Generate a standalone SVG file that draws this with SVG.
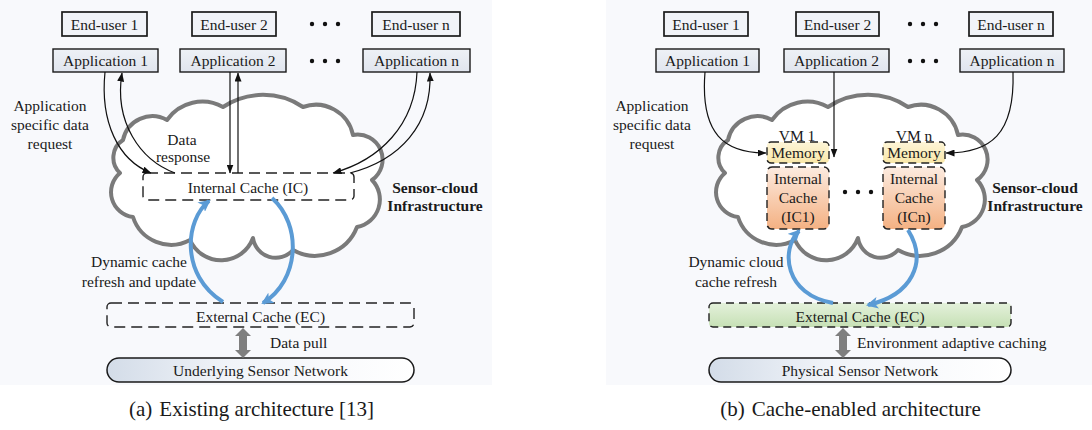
<svg xmlns="http://www.w3.org/2000/svg" xmlns:xlink="http://www.w3.org/1999/xlink" width="1092" height="430" viewBox="0 0 1092 430">
<style>
text{font-family:"Liberation Serif","Times New Roman",serif;fill:#1a1a1a}
.t{font-size:15.5px}
.c{text-anchor:middle}
.b{font-weight:bold}
.cap{font-size:21px;text-anchor:middle}
.eu{fill:#f1f3f8;stroke:#1a1a1a;stroke-width:1.7}
.app{fill:url(#gApp);stroke:#1a1a1a;stroke-width:1.4}
.dash{fill:none;stroke:#222;stroke-width:1.4;stroke-dasharray:11 6}
.dashb{stroke:#222;stroke-width:1.4;stroke-dasharray:8 5}
.cloud{fill:#fff;stroke:#7a7a7a;stroke-width:4;stroke-linejoin:round}
.ln{fill:none;stroke:#111;stroke-width:1.2;marker-end:url(#ah)}
.bl{fill:none;stroke:#5b9bd5;stroke-width:4;marker-end:url(#ahb)}
.gray{fill:#7f7f7f}
.pill{fill:url(#gNet);stroke:#1a1a1a;stroke-width:1.5}
.dot{fill:#111}
</style>
<defs>
<linearGradient id="gApp" x1="0" y1="0" x2="0" y2="1"><stop offset="0" stop-color="#eef1f6"/><stop offset="1" stop-color="#e0e5ee"/></linearGradient>
<linearGradient id="gNet" x1="0" y1="0" x2="1" y2="0"><stop offset="0" stop-color="#d3dce8"/><stop offset="0.4" stop-color="#f1f4f9"/><stop offset="1" stop-color="#ffffff"/></linearGradient>
<linearGradient id="gMem" x1="0" y1="0" x2="0" y2="1"><stop offset="0" stop-color="#fdf5d8"/><stop offset="1" stop-color="#f9e7a8"/></linearGradient>
<linearGradient id="gIC" x1="0" y1="0" x2="0" y2="1"><stop offset="0" stop-color="#fcebe0"/><stop offset="1" stop-color="#f4b183"/></linearGradient>
<linearGradient id="gEC" x1="0" y1="0" x2="0" y2="1"><stop offset="0" stop-color="#e4f1db"/><stop offset="1" stop-color="#c6e0b5"/></linearGradient>
<marker id="ah" markerUnits="userSpaceOnUse" markerWidth="9" markerHeight="7" refX="8.5" refY="3.5" orient="auto"><path d="M0,0 L9,3.5 L0,7 z" fill="#111"/></marker>
<marker id="ahb" markerUnits="userSpaceOnUse" markerWidth="12" markerHeight="12" refX="10" refY="6" orient="auto"><path d="M0,0 L12,6 L0,12 L3,6 z" fill="#5b9bd5"/></marker>
<path id="cloudShape" d="M123,140 A30,30 0 0 1 167,120 A43,43 0 0 1 223,107 A72,72 0 0 1 303,107 A38,38 0 0 1 353,135 A25,25 0 0 1 372,180 A28,28 0 0 1 357,227 A45,45 0 0 1 293,250 A23,23 0 0 1 253,238 A34,34 0 0 1 190,240 A40,40 0 0 1 133,217 A25,25 0 0 1 120,173 A21,21 0 0 1 123,140 Z"/>
</defs>
<rect x="0" y="0" width="1092" height="430" fill="#fff"/>
<rect x="0" y="0" width="492" height="385" fill="#f8f9fc"/>
<rect x="606" y="0" width="486" height="385" fill="#f8f9fc"/>

<!-- ===== Panel (a) ===== -->
<g id="cloud-a"><use xlink:href="#cloudShape" class="cloud"/></g>
<g id="a-enduser1"><rect class="eu" x="62" y="12" width="85" height="24"/><text class="t c" x="104.5" y="29.5">End-user 1</text></g>
<g id="a-enduser2"><rect class="eu" x="192" y="12" width="84" height="24"/><text class="t c" x="234" y="29.5">End-user 2</text></g>
<g id="a-endusern"><rect class="eu" x="372" y="12" width="88" height="24"/><text class="t c" x="416" y="29.5">End-user n</text></g>
<g id="a-dots1"><circle class="dot" cx="312" cy="24" r="2.2"/><circle class="dot" cx="325" cy="24" r="2.2"/><circle class="dot" cx="338" cy="24" r="2.2"/></g>
<g id="a-app1"><rect class="app" x="53" y="49" width="105" height="23"/><text class="t c" x="105.5" y="66">Application 1</text></g>
<g id="a-app2"><rect class="app" x="180" y="49" width="106" height="23"/><text class="t c" x="233" y="66">Application 2</text></g>
<g id="a-appn"><rect class="app" x="363" y="49" width="107" height="23"/><text class="t c" x="416.5" y="66">Application n</text></g>
<g id="a-dots2"><circle class="dot" cx="312" cy="61" r="2.2"/><circle class="dot" cx="325" cy="61" r="2.2"/><circle class="dot" cx="338" cy="61" r="2.2"/></g>
<g id="a-ic"><rect class="dash" x="143" y="173" width="211" height="27" rx="4"/><text class="t c" x="248" y="193">Internal Cache (IC)</text></g>
<g id="a-ec"><rect class="dash" x="107" y="303" width="307" height="24" rx="4"/><text class="t c" x="260.5" y="322">External Cache (EC)</text></g>
<g id="a-net"><rect class="pill" x="107" y="358" width="307" height="24" rx="12"/><text class="t c" x="260.5" y="376">Underlying Sensor Network</text></g>

<g id="connectors-a">
<path class="ln" d="M105,72 C100,122 118,160 151,173"/>
<path class="ln" d="M175,173 C140,160 114,122 122,73"/>
<path class="ln" d="M230,72 L230,173"/>
<path class="ln" d="M238,173 L238,73"/>
<path class="ln" d="M417,72 C415,125 380,160 333,173"/>
<path class="ln" d="M350,173 C400,160 432,125 430,73"/>
<path class="bl" d="M223,302 C180,275 185,220 209,201"/>
<path class="bl" d="M272,198 C302,225 300,280 263,303"/>
<polygon class="gray" points="243,328 251,336 247,336 247,350 251,350 243,358 235,350 239,350 239,336 235,336"/>
</g>

<g id="labels-a">
<text class="t c" x="50" y="111">Application</text>
<text class="t c" x="50" y="130">specific data</text>
<text class="t c" x="50" y="149">request</text>
<text class="t c" x="182" y="145">Data</text>
<text class="t c" x="183" y="162">response</text>
<text class="t c b" x="435" y="193">Sensor-cloud</text>
<text class="t c b" x="435" y="211">Infrastructure</text>
<text class="t c" x="139" y="267">Dynamic cache</text>
<text class="t c" x="139" y="287">refresh and update</text>
<text class="t" x="270" y="348">Data pull</text>
<text class="cap" x="251.5" y="416">(a)<tspan dx="7">Existing architecture [13]</tspan></text>
</g>

<!-- ===== Panel (b) ===== -->
<g id="cloud-b"><use xlink:href="#cloudShape" class="cloud" transform="translate(605,0)"/></g>
<g id="b-enduser1"><rect class="eu" x="664" y="12" width="84" height="24"/><text class="t c" x="706" y="29.5">End-user 1</text></g>
<g id="b-enduser2"><rect class="eu" x="796" y="12" width="83" height="24"/><text class="t c" x="837.5" y="29.5">End-user 2</text></g>
<g id="b-endusern"><rect class="eu" x="969" y="12" width="84" height="24"/><text class="t c" x="1011" y="29.5">End-user n</text></g>
<g id="b-dots1"><circle class="dot" cx="910" cy="24" r="2.2"/><circle class="dot" cx="923" cy="24" r="2.2"/><circle class="dot" cx="936" cy="24" r="2.2"/></g>
<g id="b-app1"><rect class="app" x="656" y="49" width="103" height="23"/><text class="t c" x="707.5" y="66">Application 1</text></g>
<g id="b-app2"><rect class="app" x="784" y="49" width="105" height="23"/><text class="t c" x="836.5" y="66">Application 2</text></g>
<g id="b-appn"><rect class="app" x="960" y="49" width="104" height="23"/><text class="t c" x="1012" y="66">Application n</text></g>
<g id="b-dots2"><circle class="dot" cx="910" cy="61" r="2.2"/><circle class="dot" cx="923" cy="61" r="2.2"/><circle class="dot" cx="936" cy="61" r="2.2"/></g>
<g id="b-vm1">
<text class="t c" x="797" y="141">VM 1</text>
<rect class="dashb" fill="url(#gMem)" x="767" y="142" width="62" height="21" rx="4"/>
<text class="t c" x="798" y="158">Memory</text>
<rect class="dashb" fill="url(#gIC)" x="767" y="167" width="62" height="62" rx="5"/>
<text class="t c" x="798" y="184">Internal</text>
<text class="t c" x="798" y="203">Cache</text>
<text class="t c" x="798" y="222">(IC1)</text>
</g>
<g id="b-vmn">
<text class="t c" x="914" y="141">VM n</text>
<rect class="dashb" fill="url(#gMem)" x="883" y="142" width="62" height="21" rx="4"/>
<text class="t c" x="914" y="158">Memory</text>
<rect class="dashb" fill="url(#gIC)" x="883" y="167" width="62" height="62" rx="5"/>
<text class="t c" x="914" y="184">Internal</text>
<text class="t c" x="914" y="203">Cache</text>
<text class="t c" x="914" y="222">(ICn)</text>
</g>
<g id="b-dots3"><circle class="dot" cx="845" cy="192" r="2.2"/><circle class="dot" cx="858" cy="192" r="2.2"/><circle class="dot" cx="871" cy="192" r="2.2"/></g>
<g id="b-ec"><rect class="dashb" fill="url(#gEC)" x="709" y="303" width="302" height="24" rx="4"/><text class="t c" x="860" y="322">External Cache (EC)</text></g>
<g id="b-net"><rect class="pill" x="709" y="358" width="302" height="24" rx="12"/><text class="t c" x="860" y="376">Physical Sensor Network</text></g>

<g id="connectors-b">
<path class="ln" d="M705,72 C700,135 725,153 766,153"/>
<path class="ln" d="M834,72 L834,157"/>
<path class="ln" d="M1013,72 C1015,135 990,153 946,153"/>
<path class="bl" d="M833,303 C785,295 780,250 799,231"/>
<path class="bl" d="M908,230 C928,262 912,295 868,305"/>
<polygon class="gray" points="843,328 851,336 847,336 847,350 851,350 843,358 835,350 839,350 839,336 835,336"/>
</g>

<g id="labels-b">
<text class="t c" x="652" y="111">Application</text>
<text class="t c" x="652" y="130">specific data</text>
<text class="t c" x="652" y="149">request</text>
<text class="t c b" x="1035" y="193">Sensor-cloud</text>
<text class="t c b" x="1035" y="211">Infrastructure</text>
<text class="t c" x="736" y="267">Dynamic cloud</text>
<text class="t c" x="736" y="287">cache refresh</text>
<text class="t" x="857" y="348">Environment adaptive caching</text>
<text class="cap" x="850.5" y="416">(b)<tspan dx="7">Cache-enabled architecture</tspan></text>
</g>
</svg>
